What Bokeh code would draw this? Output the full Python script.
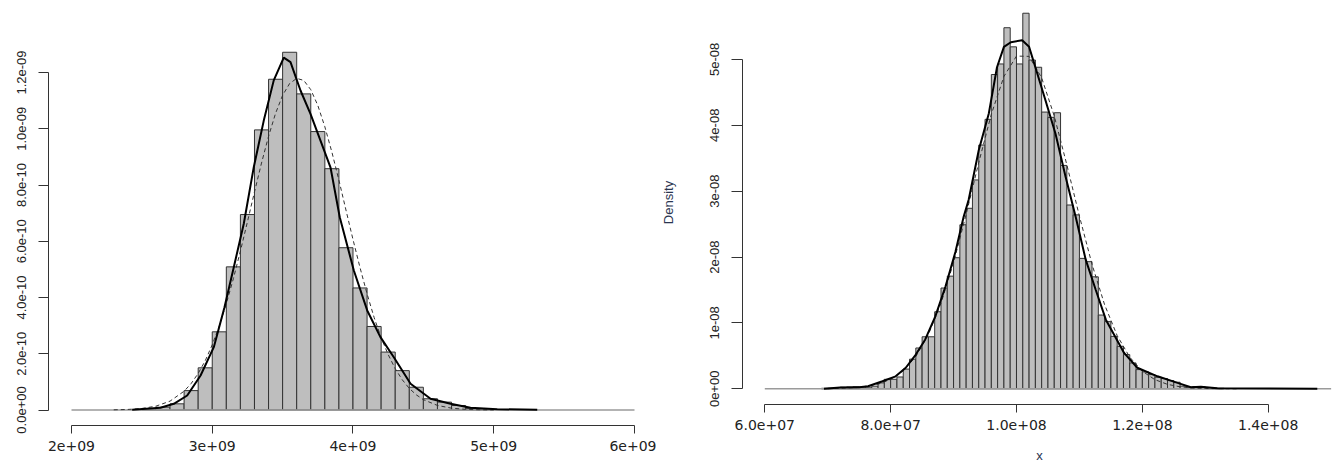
import numpy as np
from bokeh.plotting import figure
from bokeh.models import Range1d, FixedTicker, CustomJSTickFormatter
from bokeh.embed import file_html
from bokeh.resources import INLINE

# ---------------- Left panel (x in 1e9, density in 1e-10) ----------------
left_edges = [2.5, 2.6, 2.7, 2.8, 2.9, 3.0, 3.1, 3.2, 3.3, 3.4, 3.5, 3.6, 3.7,
              3.8, 3.9, 4.0, 4.1, 4.2, 4.3, 4.4, 4.5, 4.6, 4.7, 4.8, 4.9, 5.0]
left_density = [0.05, 0.10, 0.22, 0.69, 1.50, 2.78, 5.09, 6.95, 9.96, 11.76, 12.72,
                11.24, 9.90, 8.58, 5.77, 4.34, 2.97, 2.06, 1.40, 0.81, 0.40, 0.28,
                0.16, 0.05, 0.02]
left_kde_x = [2.431, 2.632, 2.727, 2.822, 2.917, 3.011, 3.087, 3.153, 3.224, 3.295,
              3.366, 3.437, 3.508, 3.556, 3.627, 3.698, 3.769, 3.840, 3.906, 4.006,
              4.101, 4.195, 4.290, 4.409, 4.551, 4.693, 4.835, 5.025, 5.309]
left_kde_y = [0.007, 0.078, 0.22, 0.516, 1.227, 2.233, 3.655, 5.077, 6.621, 8.633,
              10.29, 11.72, 12.53, 12.37, 11.36, 10.53, 9.58, 8.63, 6.855, 4.96,
              3.54, 2.59, 1.877, 0.932, 0.398, 0.22, 0.078, 0.028, 0.007]
left_norm_x = [2.3, 2.4, 2.5, 2.6, 2.7, 2.8, 2.85, 2.9, 2.95, 3.0, 3.05, 3.1, 3.15,
               3.2, 3.25, 3.3, 3.35, 3.4, 3.45, 3.5, 3.55, 3.6, 3.65, 3.7, 3.75,
               3.8, 3.85, 3.9, 3.95, 4.0, 4.05, 4.1, 4.15, 4.2, 4.25, 4.3, 4.35,
               4.4, 4.45, 4.5, 4.6, 4.7, 4.8, 4.9, 5.0]
left_norm_y = [0.0065, 0.0195, 0.054, 0.136, 0.315, 0.668, 0.94, 1.30, 1.75, 2.32,
               2.99, 3.78, 4.67, 5.65, 6.69, 7.75, 8.78, 9.73, 10.55, 11.19, 11.61,
               11.79, 11.72, 11.39, 10.83, 10.07, 9.17, 8.17, 7.11, 6.06, 5.06, 4.13,
               3.29, 2.57, 1.97, 1.47, 1.075, 0.768, 0.538, 0.368, 0.162, 0.065,
               0.024, 0.008, 0.0025]
left_xlim = [2e9, 6e9]
left_xticks = [2e9, 3e9, 4e9, 5e9, 6e9]
left_xlabels = ["2e+09", "3e+09", "4e+09", "5e+09", "6e+09"]
left_yticks = [0.0, 2e-10, 4e-10, 6e-10, 8e-10, 1e-9, 1.2e-9]
left_ylabels = ["0.0e+00", "2.0e-10", "4.0e-10", "6.0e-10", "8.0e-10", "1.0e-09", "1.2e-09"]

# ---------------- Right panel (x in 1e7, density in 1e-8) ----------------
right_edges = [6.9, 7.0, 7.1, 7.2, 7.3, 7.4, 7.5, 7.6, 7.7, 7.8, 7.9, 8.0, 8.1, 8.2,
               8.3, 8.4, 8.5, 8.6, 8.7, 8.8, 8.9, 9.0, 9.1, 9.2, 9.3, 9.4, 9.5, 9.6,
               9.7, 9.8, 9.9, 10.0, 10.1, 10.2, 10.3, 10.4, 10.5, 10.6, 10.7, 10.8,
               10.9, 11.0, 11.1, 11.2, 11.3, 11.4, 11.5, 11.6, 11.7, 11.8, 11.9,
               12.0, 12.1, 12.2, 12.3, 12.4, 12.5, 12.6, 12.7, 12.8, 12.9, 13.0,
               13.1, 13.2, 13.3]
right_density = [0.008, 0.010, 0.015, 0.025, 0.030, 0.035, 0.025, 0.025, 0.040, 0.090,
                 0.145, 0.145, 0.180, 0.300, 0.450, 0.620, 0.790, 0.790, 1.170, 1.530,
                 1.710, 1.990, 2.490, 2.740, 3.170, 3.700, 4.090, 4.770, 4.930, 5.480,
                 5.190, 4.930, 5.700, 4.990, 4.880, 4.200, 4.120, 4.190, 3.390, 2.790,
                 2.640, 1.980, 1.930, 1.700, 1.120, 1.020, 0.796, 0.645, 0.519, 0.393,
                 0.292, 0.257, 0.216, 0.176, 0.156, 0.126, 0.100, 0.040, 0.025, 0.035,
                 0.030, 0.020, 0.010, 0.008]
right_kde_x = [6.94, 7.2, 7.5, 7.64, 7.87, 8.08, 8.24, 8.40, 8.55, 8.71, 8.87, 9.03,
               9.16, 9.24, 9.40, 9.56, 9.69, 9.80, 9.91, 10.09, 10.20, 10.30, 10.46,
               10.62, 10.78, 10.94, 11.10, 11.26, 11.42, 11.71, 11.92, 12.24, 12.56,
               12.77, 12.93, 13.19, 14.78]
right_kde_y = [0.0, 0.02, 0.025, 0.04, 0.115, 0.19, 0.32, 0.52, 0.75, 1.10, 1.55, 2.08,
               2.61, 2.87, 3.62, 4.18, 4.88, 5.19, 5.26, 5.29, 5.19, 4.88, 4.38, 3.87,
               3.22, 2.61, 1.96, 1.50, 1.05, 0.545, 0.32, 0.19, 0.09, 0.025, 0.03,
               0.01, 0.0]
right_norm_x = [7.0, 7.5, 7.8, 8.0, 8.2, 8.4, 8.6, 8.8, 9.0, 9.2, 9.4, 9.6, 9.8, 10.0,
                10.2, 10.4, 10.6, 10.8, 11.0, 11.2, 11.4, 11.6, 11.8, 12.0, 12.2,
                12.4, 12.6, 12.8, 13.0, 13.5]
right_norm_y = [0.0021, 0.0212, 0.0698, 0.143, 0.274, 0.491, 0.825, 1.298, 1.916,
                2.649, 3.433, 4.167, 4.74, 5.05, 5.045, 4.72, 4.14, 3.40, 2.62, 1.89,
                1.277, 0.808, 0.480, 0.267, 0.139, 0.068, 0.031, 0.013, 0.005, 0.0004]
right_xlim = [6e7, 1.5e8]
right_xticks = [6e7, 8e7, 1e8, 1.2e8, 1.4e8]
right_xlabels = ["6.0e+07", "8.0e+07", "1.0e+08", "1.2e+08", "1.4e+08"]
right_yticks = [0.0, 1e-8, 2e-8, 3e-8, 4e-8, 5e-8]
right_ylabels = ["0e+00", "1e-08", "2e-08", "3e-08", "4e-08", "5e-08"]
right_xtitle = "x"
right_ytitle = "Density"

BAR_FILL = "#bebebe"
BAR_LINE = "#333333"
AXIS_COLOR = "#333333"
TEXT_COLOR = "#222222"
TITLE_COLOR = "#2a3550"

FMT_CODE = """
let i = -1;
for (let k = 0; k < tv.length; k++) {
  if (Math.abs(tv[k] - tick) <= 1e-6 * Math.abs(tv[k]) + 1e-30) { i = k; break; }
}
return i >= 0 ? labels[i] : "";
"""


def style_axes(p, xticks, xlabels, yticks, ylabels, ytick_len):
    xa = p.xaxis[0]
    ya = p.yaxis[0]
    xa.ticker = FixedTicker(ticks=xticks)
    ya.ticker = FixedTicker(ticks=yticks)
    xa.formatter = CustomJSTickFormatter(args=dict(tv=xticks, labels=xlabels), code=FMT_CODE)
    ya.formatter = CustomJSTickFormatter(args=dict(tv=yticks, labels=ylabels), code=FMT_CODE)
    xa.bounds = (xticks[0], xticks[-1])
    ya.bounds = (yticks[0], yticks[-1])
    for ax in (xa, ya):
        ax.axis_line_color = AXIS_COLOR
        ax.axis_line_width = 1
        ax.major_tick_line_color = AXIS_COLOR
        ax.major_tick_in = 0
        ax.minor_tick_in = 0
        ax.minor_tick_out = 0
        ax.major_label_text_color = TEXT_COLOR
        ax.axis_label_text_font = "Liberation Sans"
        ax.axis_label_text_font_size = "13px"
        ax.axis_label_text_font_style = "normal"
        ax.axis_label_text_color = TITLE_COLOR
    xa.major_tick_out = 8
    ya.major_tick_out = ytick_len
    xa.major_label_text_font = "DejaVu Sans"
    xa.major_label_text_font_size = "14px"
    xa.major_label_standoff = 7
    ya.major_label_text_font = "Liberation Sans"
    ya.major_label_text_font_size = "13px"
    ya.major_label_orientation = "vertical"
    ya.major_label_standoff = 12
    p.xgrid.visible = False
    p.ygrid.visible = False
    p.outline_line_color = None


def panel(edges, dens, xs, dscale, kx, ky, nx, ny, xlim, xr, yr, w, h, borders):
    p = figure(width=w, height=h, x_range=Range1d(*xr), y_range=Range1d(*yr),
               output_backend="svg", toolbar_location=None,
               min_border_left=borders[0], min_border_right=borders[1],
               min_border_top=borders[2], min_border_bottom=borders[3])
    p.background_fill_color = "white"
    p.border_fill_color = "white"
    e = np.array(edges) * xs
    p.quad(left=e[:-1], right=e[1:], bottom=0, top=np.array(dens) * dscale,
           fill_color=BAR_FILL, line_color=BAR_LINE, line_width=1)
    p.line(x=list(xlim), y=[0, 0], line_color="#9a9a9a", line_width=1.5)
    p.line(x=np.array(nx) * xs, y=np.array(ny) * dscale, line_color="#333333",
           line_width=1, line_dash="4 3")
    p.line(x=np.array(kx) * xs, y=np.array(ky) * dscale, line_color="black",
           line_width=2)
    return p


# left figure (page x 0..656): frame x 48..656, y 0..425
p1 = panel(left_edges, left_density, 1e9, 1e-10, left_kde_x, left_kde_y,
           left_norm_x, left_norm_y, left_xlim,
           (1.836590e9, 6.156306e9), (-0.5511e-10, 14.56e-10),
           656, 465, (48, 0, 0, 40))
style_axes(p1, left_xticks, left_xlabels, left_yticks, left_ylabels, 10)

# right figure (page x 656..1336): frame x 742..1336, y 0..405
p2 = panel(right_edges, right_density, 1e7, 1e-8, right_kde_x, right_kde_y,
           right_norm_x, right_norm_y, right_xlim,
           (5.64561e7, 15.08542e7), (-0.23766e-8, 5.89313e-8),
           680, 465, (86, 0, 0, 60))
style_axes(p2, right_xticks, right_xlabels, right_yticks, right_ylabels, 11)
p2.xaxis[0].axis_label = right_xtitle
p2.xaxis[0].axis_label_standoff = 15
p2.yaxis[0].axis_label = right_ytitle
p2.yaxis[0].axis_label_standoff = 32

# two independent roots laid side by side (keeps each panel's own frame geometry)
TEMPLATE = """
{% block postamble %}
<style>
  body { display: flex !important; flex-direction: row; align-items: flex-start; }
</style>
{% endblock %}
"""

open("out.html", "w").write(file_html([p1, p2], INLINE, template=TEMPLATE))
